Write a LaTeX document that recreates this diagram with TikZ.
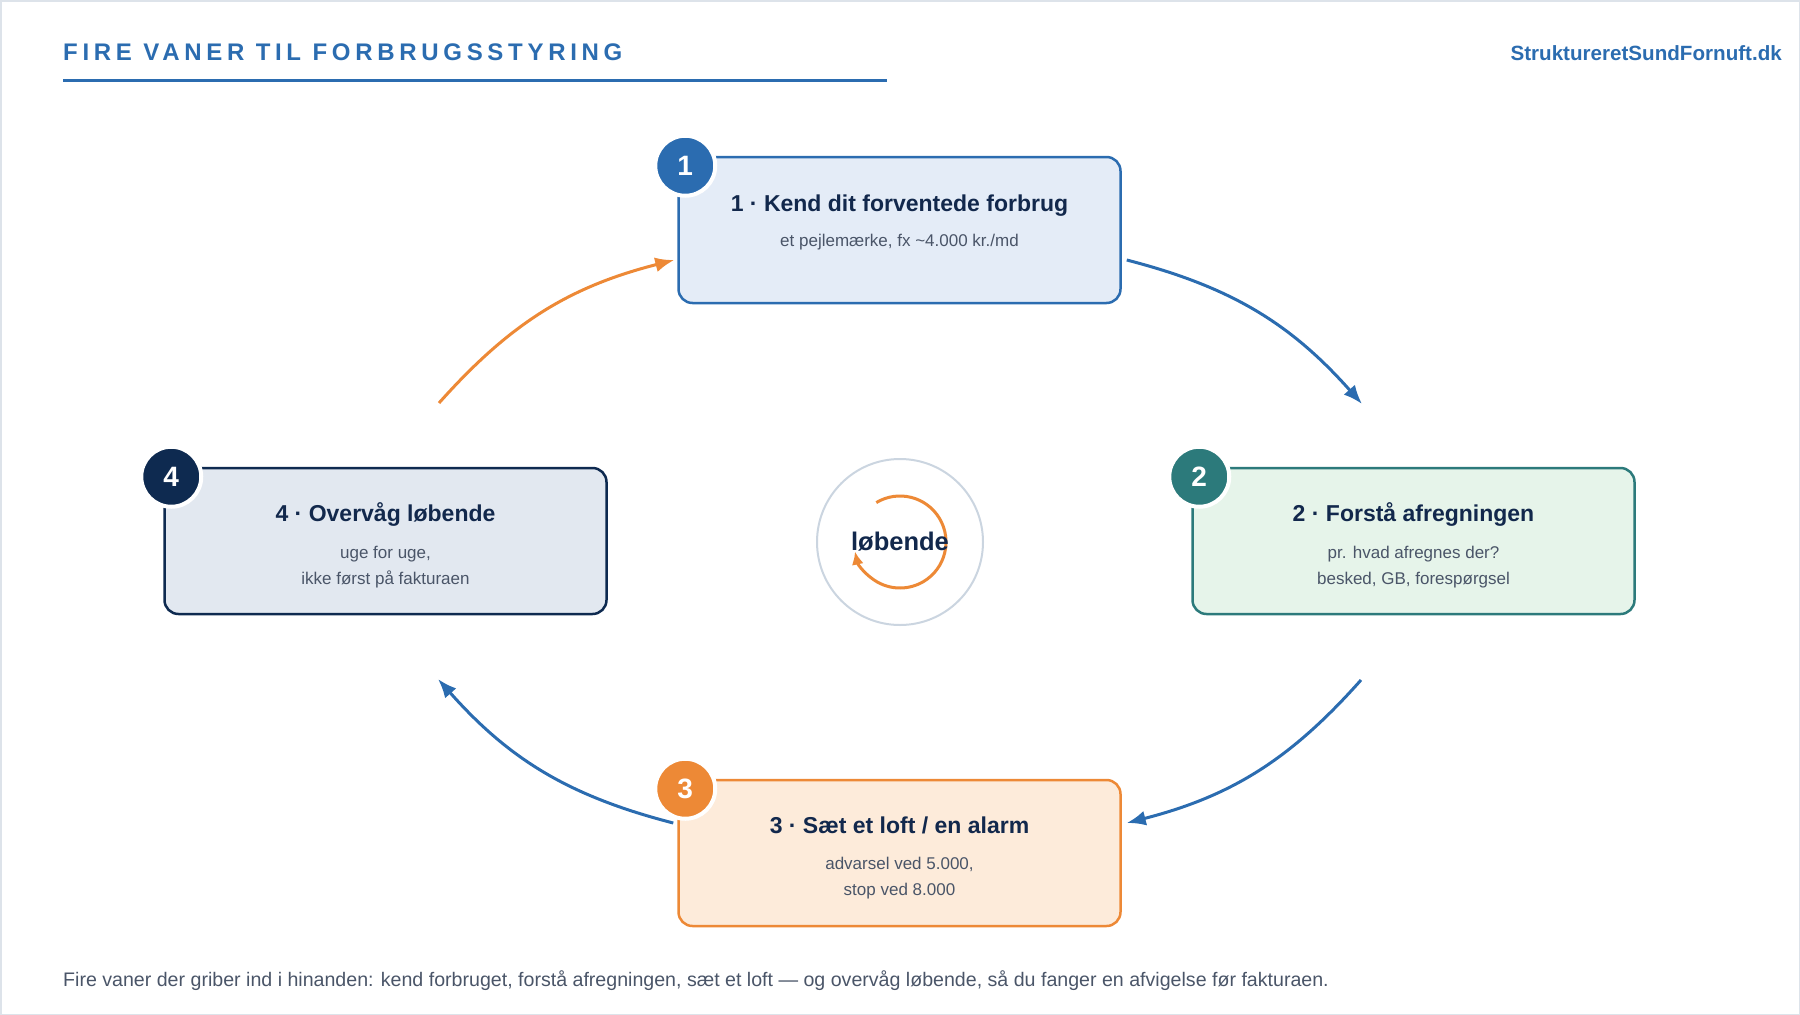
\documentclass[tikz,border=0pt]{standalone}
\usepackage{fontspec}
\setmainfont{Liberation Sans}
\newfontfamily\trackfont[LetterSpace=19.6]{Liberation Sans}
\usetikzlibrary{arrows.meta,calc}
\definecolor{cblue}{HTML}{2B6CB0}
\definecolor{cteal}{HTML}{2C7A7B}
\definecolor{corange}{HTML}{ED8936}
\definecolor{cnavy}{HTML}{0E2A50}
\definecolor{ctext}{HTML}{12284C}
\definecolor{cgray}{HTML}{4A5568}
\definecolor{fillone}{HTML}{E4ECF7}
\definecolor{filltwo}{HTML}{E6F4EA}
\definecolor{fillthree}{HTML}{FDEBDA}
\definecolor{fillfour}{HTML}{E2E8F0}
\definecolor{ringcol}{HTML}{CBD5E0}
\definecolor{framecol}{HTML}{DDE3EA}
\tikzset{
  stepbox/.style={rectangle, rounded corners=14, line width=2.5, minimum width=442, minimum height=146, inner sep=0},
  badge/.style={circle, draw=white, line width=4, minimum size=60, inner sep=0, text=white, font=\fontsize{28}{30}\selectfont\bfseries},
  boxtitle/.style={anchor=base, text=ctext, font=\fontsize{23}{28}\selectfont\bfseries},
  boxsub/.style={anchor=base, text=cgray, font=\fontsize{17}{22}\selectfont},
  flowarrow/.style={line width=3, -{Latex[length=19,width=15]}}
}
\begin{document}
\begin{tikzpicture}[x=1pt,y=-1pt]
\useasboundingbox (0,0) rectangle (1800,1015);
\draw[framecol, line width=1.5] (0.75,0.75) rectangle (1799.25,1014.25);

% header
\node[anchor=base west, inner sep=0, text=cblue, font=\fontsize{24}{28}\selectfont\trackfont\bfseries] (title) at (63,60) {FIRE VANER TIL FORBRUGSSTYRING};
\draw[cblue, line width=3.3] (63,80.5) -- (887,80.5);
\node[anchor=base east, inner sep=0, text=cblue, font=\fontsize{20.6}{26}\selectfont\bfseries] (web) at (1782,60) {StruktureretSundFornuft.dk};

% boxes
\node[stepbox, draw=cblue, fill=fillone] (b1) at (899.5,230) {};
\node[stepbox, draw=cteal, fill=filltwo] (b2) at (1413.5,541) {};
\node[stepbox, draw=corange, fill=fillthree] (b3) at (899.5,853) {};
\node[stepbox, draw=cnavy, fill=fillfour] (b4) at (385.5,541) {};

\node[boxtitle] (t1) at ($(b1.north)+(0,56)$) {1 · Kend dit forventede forbrug};
\node[boxsub] (s1) at ($(b1.north)+(0,91)$) {et pejlemærke, fx \textasciitilde4.000 kr./md};

\node[boxtitle] (t2) at ($(b2.north)+(0,55)$) {2 · Forstå afregningen};
\node[boxsub] (s2a) at ($(b2.north)+(0,91.5)$) {pr. hvad afregnes der?};
\node[boxsub] (s2b) at ($(b2.north)+(0,117.5)$) {besked, GB, forespørgsel};

\node[boxtitle] (t3) at ($(b3.north)+(0,55)$) {3 · Sæt et loft / en alarm};
\node[boxsub] (s3a) at ($(b3.north)+(0,91)$) {advarsel ved 5.000,};
\node[boxsub] (s3b) at ($(b3.north)+(0,117)$) {stop ved 8.000};

\node[boxtitle] (t4) at ($(b4.north)+(0,55)$) {4 · Overvåg løbende};
\node[boxsub] (s4a) at ($(b4.north)+(0,91.5)$) {uge for uge,};
\node[boxsub] (s4b) at ($(b4.north)+(0,117.5)$) {ikke først på fakturaen};

% badges
\node[badge, fill=cblue] (n1) at ($(b1.north west)+(8,10)$) {1};
\node[badge, fill=cteal] (n2) at ($(b2.north west)+(8,10)$) {2};
\node[badge, fill=corange] (n3) at ($(b3.north west)+(8,10)$) {3};
\node[badge, fill=cnavy] (n4) at ($(b4.north west)+(8,10)$) {4};

% connectors
\coordinate (c4out) at (439,403);
\coordinate (c2in) at (1362,404);
\coordinate (c2out) at (1361,680);
\coordinate (c4in) at (438,679);
\draw[flowarrow, corange] (c4out) to[bend left=17] ([shift={(-3,30)}]b1.west);
\draw[flowarrow, cblue] ([shift={(5,30)}]b1.east) to[bend left=17] (c2in);
\draw[flowarrow, cblue] (c2out) to[bend left=17] ([shift={(5,-30)}]b3.east);
\draw[flowarrow, cblue] ([shift={(-4,-30)}]b3.west) to[bend left=17] (c4in);

% centre
\node[circle, draw=ringcol, line width=2, fill=white, minimum size=166, inner sep=0] (ctr) at (900,542) {};
\draw[corange, line width=3, -{Latex[length=13,width=12]}] ([shift={(-121:46)}]ctr.center) arc[start angle=-121, end angle=168, radius=46];
\node[text=ctext, font=\fontsize{25.5}{28}\selectfont\bfseries, inner sep=0] (lob) at (ctr.center) {løbende};

% footer
\node[anchor=base west, inner sep=0, text=cgray, font=\fontsize{19.6}{23}\selectfont] (foot) at (63,986) {Fire vaner der griber ind i hinanden: kend forbruget, forstå afregningen, sæt et loft — og overvåg løbende, så du fanger en afvigelse før fakturaen.};
\end{tikzpicture}
\end{document}
